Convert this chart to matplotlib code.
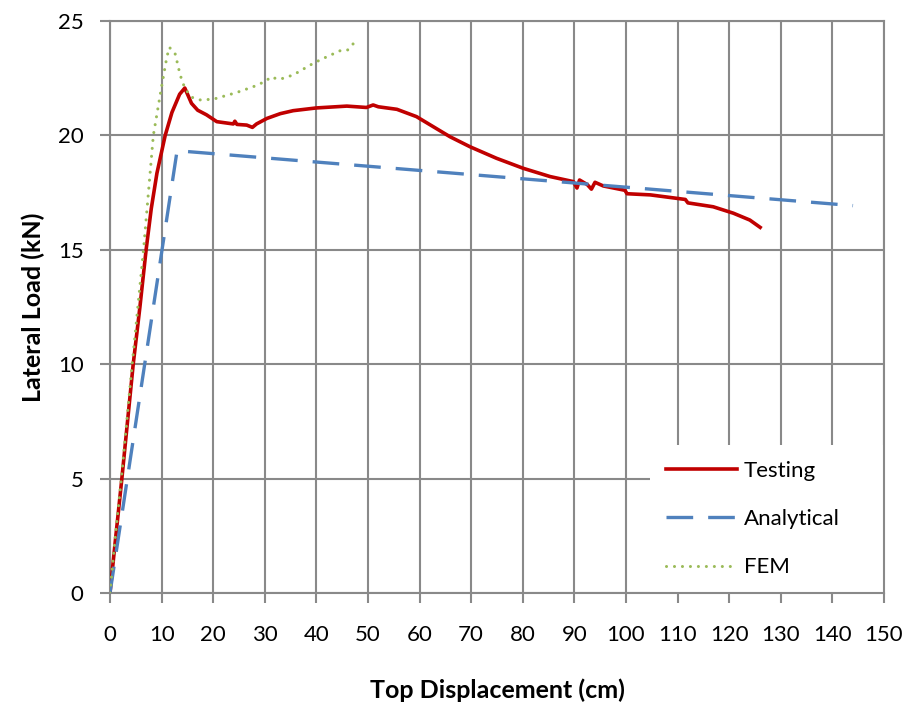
import numpy as np
import matplotlib.pyplot as plt

plt.rcParams['font.family'] = ['Lato', 'DejaVu Sans']

# Testing curve
test_x = [0, 1.0, 2.3, 3.4, 4.5, 5.8, 7.0, 8.0, 9.1, 10.7, 12.0, 13.5, 14.5, 15.8,
          17.0, 18.7, 20.7, 23.9, 24.2, 24.6, 26.5, 27.6, 28.4, 30.4, 33.0, 35.5,
          40.0, 45.9, 49.7, 51.0, 52.0, 55.6, 59.4, 62.5, 65.9, 69.8, 74.9, 80.1,
          85.3, 89.8, 90.5, 91.0, 92.5, 93.3, 94.0, 95.6, 99.8, 100.2, 104.7, 109.8,
          111.5, 112.0, 116.9, 120.8, 124.0, 126.0]
test_y = [0, 2.2, 5.0, 7.5, 10.0, 12.5, 15.0, 16.8, 18.35, 20.0, 21.0, 21.8, 22.07, 21.4,
          21.1, 20.9, 20.6, 20.5, 20.62, 20.48, 20.45, 20.35, 20.5, 20.74, 20.95, 21.08,
          21.2, 21.28, 21.22, 21.33, 21.25, 21.14, 20.82, 20.4, 19.94, 19.5, 19.0, 18.56,
          18.2, 17.98, 17.7, 18.05, 17.85, 17.65, 17.95, 17.79, 17.6, 17.45, 17.4, 17.25,
          17.2, 17.05, 16.88, 16.6, 16.3, 15.98]

# Analytical curve
ana_x = [0, 13.0, 144.0]
ana_y = [0, 19.33, 16.93]

# FEM curve
fem_x = [0, 1.0, 2.2, 4.3, 6.5, 8.4, 10.0, 11.0, 11.5, 12.6, 13.0, 13.6, 14.5, 15.8,
         17.4, 20.0, 24.5, 27.8, 30.4, 31.0, 32.9, 35.5, 39.4, 41.3, 44.6, 46.0, 47.2]
fem_y = [0, 2.4, 5.0, 10.0, 15.0, 20.0, 22.13, 23.4, 23.85, 23.59, 23.22, 22.64, 22.06, 21.67,
         21.55, 21.58, 21.87, 22.13, 22.39, 22.55, 22.45, 22.64, 23.15, 23.36, 23.7, 23.72, 24.02]

x_ticks = np.arange(0, 151, 10)
y_ticks = np.arange(0, 26, 5)

fig = plt.figure(figsize=(9.06, 7.02), dpi=100)
ax = fig.add_axes([0.1214, 0.1553, 0.8543, 0.8148])

grid_col = '#898989'
ax.plot(test_x, test_y, color='#C00000', lw=2.6, label='Testing', zorder=3)
ax.plot(ana_x, ana_y, color='#4F81BD', lw=2.4, dashes=(8, 4.5), label='Analytical', zorder=3)
ax.plot(fem_x, fem_y, color='#9BBB59', lw=2.2, dashes=(0.01, 2.6), dash_capstyle='round',
        label='FEM', zorder=3)

ax.set_xlim(0, 150)
ax.set_ylim(0, 25)
ax.set_xticks(x_ticks)
ax.set_yticks(y_ticks)
ax.grid(True, color=grid_col, lw=1.5)
ax.set_axisbelow(True)
for s in ax.spines.values():
    s.set_color(grid_col)
    s.set_linewidth(1.5)
ax.tick_params(axis='both', colors=grid_col, labelcolor='black', labelsize=16,
               length=7, width=1.5, direction='out')
ax.tick_params(axis='x', pad=16)
ax.tick_params(axis='y', pad=12)

ax.set_xlabel('Top Displacement (cm)', fontsize=18, fontweight='bold', labelpad=24)
ax.set_ylabel('Lateral Load (kN)', fontsize=18, fontweight='bold', labelpad=9)

# legend box stretched to the right edge, entries kept on the left
leg = ax.legend(loc='lower left', bbox_to_anchor=(0.698, 0.0, 0.302, 0.3), mode='expand',
                fontsize=16, frameon=True, fancybox=False, framealpha=1, edgecolor='white',
                handlelength=3.2, labelspacing=1.28, borderpad=0.7, borderaxespad=0.0,
                handletextpad=0.3)
leg.get_frame().set_linewidth(0)
leg.set_zorder(2.4)

fig.savefig('out.png', dpi=100)
